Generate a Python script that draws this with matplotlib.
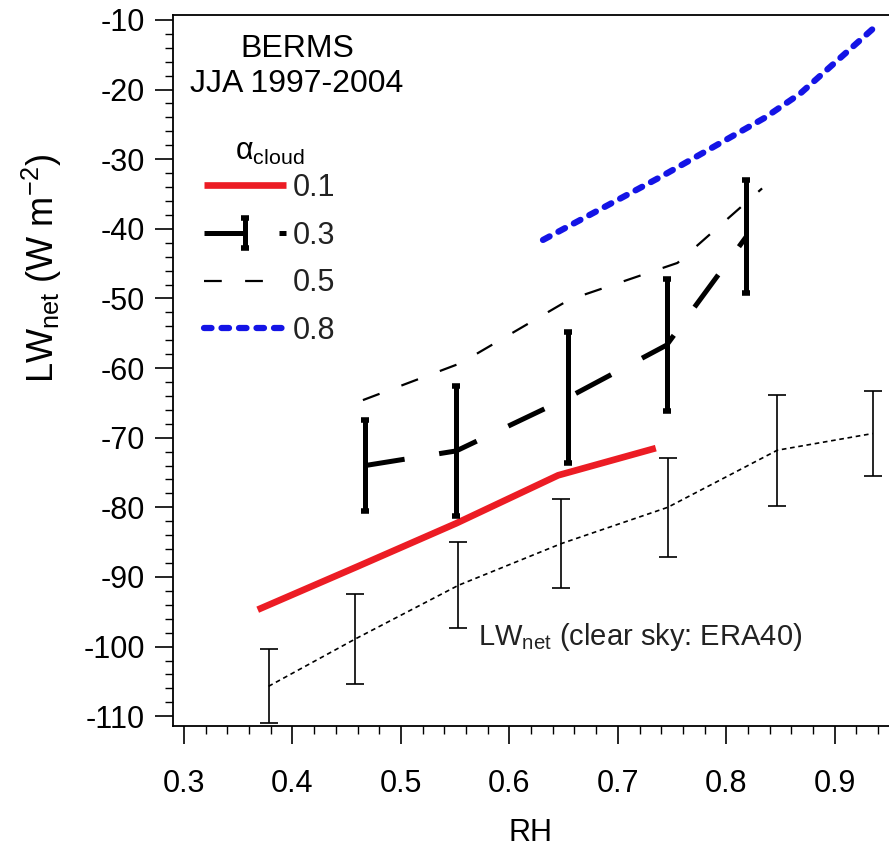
import matplotlib
matplotlib.use("Agg")
import matplotlib.pyplot as plt
from matplotlib.ticker import MultipleLocator

plt.rcParams["font.family"] = ["Liberation Sans", "DejaVu Sans"]
plt.rcParams["mathtext.fontset"] = "custom"
plt.rcParams["mathtext.rm"] = "Liberation Sans"
plt.rcParams["mathtext.it"] = "Liberation Sans:italic"

# alpha_cloud = 0.1
rh_01 = [0.368, 0.46, 0.551, 0.645, 0.735]
lw_01 = [-94.7, -88.5, -82.3, -75.4, -71.5]

# alpha_cloud = 0.3 (with spread)
rh_03 = [0.467, 0.551, 0.654, 0.745, 0.8186]
lw_03 = [-74.0, -71.9, -64.25, -56.7, -41.1]
err_03 = [6.55, 9.3, 9.45, 9.5, 8.1]

# alpha_cloud = 0.5
rh_05 = [0.465, 0.555, 0.655, 0.755, 0.833]
lw_05 = [-64.6, -59.3, -50.2, -44.9, -34.2]

# alpha_cloud = 0.8
rh_08 = [0.631, 0.74, 0.835, 0.868, 0.935]
lw_08 = [-41.6, -32.5, -24.1, -20.6, -11.3]

# clear sky LWnet from ERA40
rh_clr = [0.378, 0.458, 0.553, 0.648, 0.746, 0.847, 0.935]
lw_clr = [-105.7, -98.9, -91.2, -85.2, -80.0, -71.8, -69.4]
err_clr = [5.3, 6.5, 6.2, 6.45, 7.15, 7.95, 6.1]

fig = plt.figure(figsize=(8.89, 8.49), dpi=100)
ax = fig.add_axes([0.1946, 0.1449, 0.8054, 0.8374])

ax.errorbar(rh_clr, lw_clr, yerr=err_clr, color="black", lw=1.2,
            linestyle=(0, (2.8, 2.2)), elinewidth=1.2, capsize=6.5, capthick=1.2)

l01, = ax.plot(rh_01, lw_01, color="#ec1c24", lw=4.8, solid_capstyle="butt")
eb03 = ax.errorbar(rh_03, lw_03, yerr=err_03, color="black", lw=3.6,
                   linestyle=(0, (8, 7)), elinewidth=3.6, capsize=3, capthick=4)
l05, = ax.plot(rh_05, lw_05, color="black", lw=1.6, linestyle=(0, (8, 10.5)))
l08, = ax.plot(rh_08, lw_08, color="#1414e6", lw=4.5, linestyle=(0, (1.2, 1.6)),
               dash_capstyle="round")

ax.set_xlim(0.2899, 0.95)
ax.set_ylim(-111.4, -9.3)

ax.xaxis.set_major_locator(MultipleLocator(0.1))
ax.xaxis.set_minor_locator(MultipleLocator(0.02))
ax.yaxis.set_major_locator(MultipleLocator(10))
ax.yaxis.set_minor_locator(MultipleLocator(2))
ax.xaxis.set_major_formatter(plt.FuncFormatter(lambda v, p: f"{v:.1f}"))
ax.yaxis.set_major_formatter(plt.FuncFormatter(lambda v, p: f"-{abs(v):.0f}"))

ax.tick_params(which="major", direction="out", length=13, width=1.2,
               labelsize=22, pad=18)
ax.tick_params(which="minor", direction="out", length=6, width=1.0)
ax.tick_params(axis="y", which="major", pad=7)
ax.spines["right"].set_visible(False)
for s in ("left", "bottom", "top"):
    ax.spines[s].set_linewidth(1.3)

ax.set_xlabel("RH", fontsize=22)
ax.xaxis.set_label_coords(0.5, -0.13)
ax.set_ylabel(r"LW$_\mathregular{net}$ (W m$^\mathregular{-2}$)", fontsize=26)
ax.yaxis.set_label_coords(-0.152, 0.644)

ax.text(0.173, 0.928, "BERMS\nJJA 1997-2004", transform=ax.transAxes,
        ha="center", va="center", fontsize=23, linespacing=1.2)
ax.text(0.571, -99.8, r"LW$_\mathregular{net}$ (clear sky: ERA40)",
        fontsize=21, color="#222222")

leg = ax.legend([l01, eb03, l05, l08], ["0.1", "0.3", "0.5", "0.8"],
                title=r"$\mathregular{\alpha}_\mathregular{cloud}$", title_fontsize=22,
                loc="upper left", bbox_to_anchor=(0.043, 0.828), frameon=False,
                fontsize=22, handlelength=2.7, handletextpad=0.2,
                labelspacing=0.58, borderpad=0, borderaxespad=0)
leg._legend_box.sep = 4
for t in leg.get_texts():
    t.set_color("#222222")

fig.savefig("out.png", dpi=100)
